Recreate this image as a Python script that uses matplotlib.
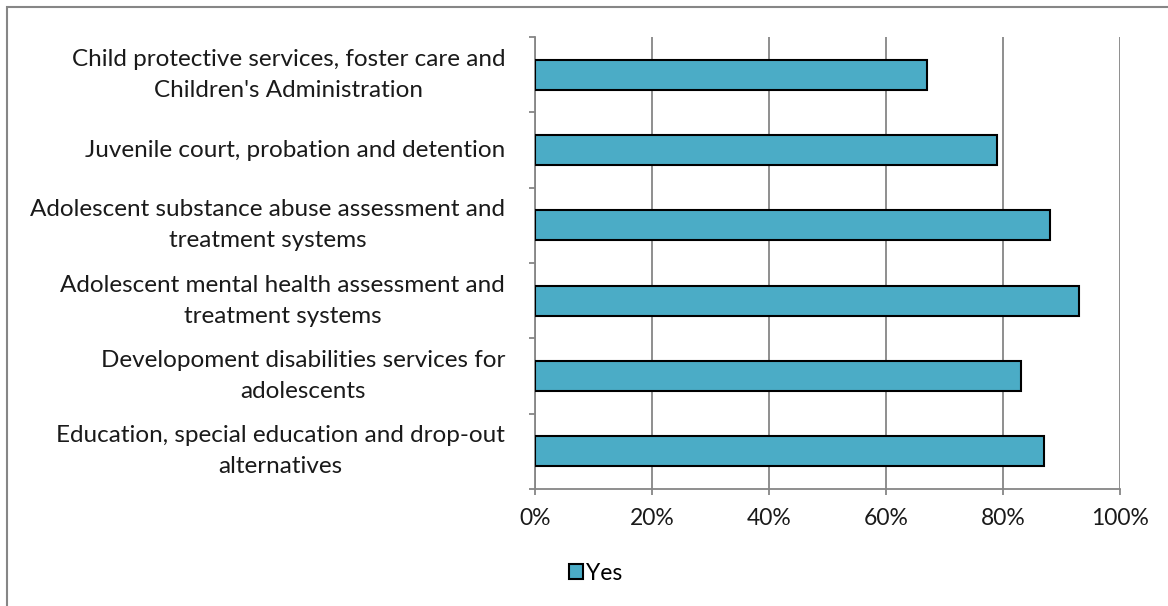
import matplotlib.pyplot as plt
from matplotlib.patches import Rectangle
from matplotlib.ticker import PercentFormatter

# Survey responses (share answering "Yes")
categories = [
    "Child protective services, foster care and\nChildren's Administration",
    "Juvenile court, probation and detention",
    "Adolescent substance abuse assessment and\ntreatment systems",
    "Adolescent mental health assessment and\ntreatment systems",
    "Developoment disabilities services for\nadolescents",
    "Education, special education and drop-out\nalternatives",
]
yes_share = [67, 79, 88, 93, 83, 87]
x_ticks = [0, 20, 40, 60, 80, 100]

plt.rcParams['font.family'] = ['Lato', 'DejaVu Sans']

fig = plt.figure(figsize=(11.68, 6.06), dpi=100)
ax = fig.add_axes([535 / 1168, 1 - 489 / 606, 585 / 1168, 452 / 606])

pos = range(len(categories))
ax.barh(pos, yes_share, height=0.4, color='#4BACC6', edgecolor='black',
        linewidth=1.5, label='Yes', zorder=3)

ax.set_ylim(len(categories) - 0.5, -0.5)
ax.set_xlim(0, 100)
ax.set_xticks(x_ticks)
ax.xaxis.set_major_formatter(PercentFormatter(decimals=0))
ax.set_yticks([p - 0.5 for p in pos] + [len(categories) - 0.5])
ax.set_yticklabels([])
ax.set_yticks(list(pos), minor=True)
ax.set_yticklabels(categories, minor=True, fontsize=17.5, ha='right',
                   va='center', multialignment='center', linespacing=1.6)
ax.tick_params(axis='y', which='minor', length=0, pad=21.5)
ax.tick_params(axis='y', which='major', length=4, color='#868686', width=1.3)
ax.tick_params(axis='x', length=4, color='#868686', width=1.3,
               labelsize=16.5, pad=10, labelcolor='#1a1a1a')
for lbl in ax.get_yticklabels(minor=True):
    lbl.set_color('#1a1a1a')

ax.grid(axis='x', color='#868686', linewidth=1.3, zorder=0)
for side in ('top', 'right'):
    ax.spines[side].set_visible(False)
for side in ('left', 'bottom'):
    ax.spines[side].set_color('#868686')
    ax.spines[side].set_linewidth(1.3)

fig.legend(loc='center', bbox_to_anchor=(596 / 1168, 1 - 573 / 606),
           frameon=False, fontsize=16.5, handlelength=0.6, handleheight=0.6,
           handletextpad=0.15)

# chart-area frame, bottom and right edges run off the canvas
fig.patches.append(Rectangle((7 / 1168, -0.05), 1.0, 1.05 - 7 / 606,
                             transform=fig.transFigure, fill=False,
                             edgecolor='#868686', linewidth=1.5))

fig.savefig('out.png', dpi=100)
